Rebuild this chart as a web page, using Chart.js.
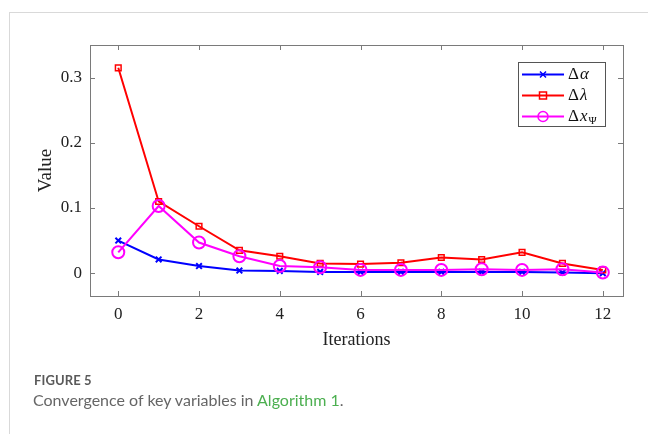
<!DOCTYPE html>
<html>
<head>
<meta charset="utf-8">
<script src="https://cdn.jsdelivr.net/npm/chart.js@4.4.0/dist/chart.umd.min.js"></script>
<style>
  html, body { margin: 0; padding: 0; background: #fff; }
  body { width: 648px; height: 434px; position: relative; overflow: hidden; }
  #frame { position: absolute; left: 9px; top: 12px; width: 660px; height: 440px;
           border-left: 1px solid #d9d9d9; border-top: 1px solid #d9d9d9; }
  #wrap { position: absolute; left: 0; top: 0; width: 648px; height: 434px; }
  #fig { position: absolute; left: 34px; top: 372px; font-family: Lato, "Open Sans", sans-serif;
         font-size: 13px; font-weight: 700; color: #5a5a5a; letter-spacing: 0.1px; }
  #cap { position: absolute; left: 33px; top: 390px; font-family: Lato, "Open Sans", sans-serif;
         font-size: 16px; color: #666; letter-spacing: 0; }
  #cap span { color: #4caf50; }
</style>
</head>
<body>
<div id="frame"></div>
<div id="wrap"><canvas id="c" width="648" height="434"></canvas></div>
<div id="fig">FIGURE 5</div>
<div id="cap">Convergence of key variables in <span>Algorithm 1</span>.</div>
<script>
const iterations = [0, 1, 2, 3, 4, 5, 6, 7, 8, 9, 10, 11, 12];
const deltaAlpha  = [0.050, 0.021, 0.011, 0.004, 0.0035, 0.002, 0.002, 0.002, 0.002, 0.002, 0.002, 0.001, 0.000];
const deltaLambda = [0.315, 0.110, 0.072, 0.035, 0.026, 0.015, 0.014, 0.016, 0.024, 0.021, 0.032, 0.015, 0.005];
const deltaXPsi   = [0.032, 0.103, 0.047, 0.026, 0.011, 0.009, 0.005, 0.005, 0.005, 0.006, 0.005, 0.006, 0.001];
const xTickValues = [0, 2, 4, 6, 8, 10, 12];
const yTickValues = [0, 0.1, 0.2, 0.3];
const yTickLabels = ['0', '0.1', '0.2', '0.3'];
const seriesLabels = ['Δα', 'Δλ', 'ΔxΨ'];

const toPoints = arr => iterations.map((x, i) => ({ x: x, y: arr[i] }));
const serif = '"Liberation Serif", "Times New Roman", serif';

const boxTicks = {
  id: 'boxTicks',
  afterDatasetsDraw(chart) {
    const { ctx, chartArea: a, scales: { x, y } } = chart;
    ctx.save();
    ctx.strokeStyle = '#7a7a7a';
    ctx.lineWidth = 1;
    ctx.strokeRect(Math.round(a.left) + 0.5, Math.round(a.top) + 0.5,
                   Math.round(a.right - a.left), Math.round(a.bottom - a.top));
    ctx.beginPath();
    const L = 5;
    xTickValues.forEach(v => {
      const px = Math.round(x.getPixelForValue(v)) + 0.5;
      ctx.moveTo(px, a.bottom); ctx.lineTo(px, a.bottom - L);
      ctx.moveTo(px, a.top); ctx.lineTo(px, a.top + L);
    });
    yTickValues.forEach(v => {
      const py = Math.round(y.getPixelForValue(v)) + 0.5;
      ctx.moveTo(a.left, py); ctx.lineTo(a.left + L, py);
      ctx.moveTo(a.right, py); ctx.lineTo(a.right - L, py);
    });
    ctx.stroke();

    // legend
    const lx = 518, ly = 62, lw = 87, lh = 64;
    ctx.fillStyle = '#fff';
    ctx.fillRect(lx, ly, lw, lh);
    ctx.strokeStyle = '#555';
    ctx.strokeRect(lx + 0.5, ly + 0.5, lw, lh);
    const rows = [74, 95, 116];
    [0, 1, 2].forEach((di, r) => {
      const ds = chart.data.datasets[di];
      const yy = rows[r] + 0.5;
      ctx.strokeStyle = ds.borderColor;
      ctx.lineWidth = 2;
      ctx.beginPath(); ctx.moveTo(522, yy); ctx.lineTo(564, yy); ctx.stroke();
      ctx.lineWidth = 1.5;
      const cx = 543;
      ctx.beginPath();
      if (ds.pointStyle === 'crossRot') {
        ctx.moveTo(cx - 3, yy - 3); ctx.lineTo(cx + 3, yy + 3);
        ctx.moveTo(cx + 3, yy - 3); ctx.lineTo(cx - 3, yy + 3);
      } else if (ds.pointStyle === 'rect') {
        ctx.rect(cx - 3.5, yy - 3.5, 7, 7);
      } else {
        ctx.arc(cx, yy, 5, 0, Math.PI * 2);
      }
      ctx.stroke();
      ctx.fillStyle = '#111';
      ctx.textBaseline = 'middle';
      ctx.textAlign = 'left';
      const lab = seriesLabels[di];
      let tx = 568;
      ctx.font = '17px ' + serif;
      ctx.fillText(lab[0], tx, yy);
      tx += ctx.measureText(lab[0]).width + 1;
      ctx.font = 'italic 17px ' + serif;
      ctx.fillText(lab[1], tx, yy);
      tx += ctx.measureText(lab[1]).width;
      if (lab.length > 2) {
        ctx.font = '11px ' + serif;
        ctx.fillText(lab.slice(2), tx + 1, yy + 5);
      }
    });
    ctx.restore();
  }
};

new Chart(document.getElementById('c'), {
  type: 'line',
  data: {
    datasets: [
      { label: seriesLabels[0], data: toPoints(deltaAlpha), borderColor: '#0000ff', backgroundColor: 'rgba(0,0,0,0)',
        borderWidth: 2, pointStyle: 'crossRot', pointRadius: 4, pointBorderWidth: 2, order: 2 },
      { label: seriesLabels[1], data: toPoints(deltaLambda), borderColor: '#ff0000', backgroundColor: 'rgba(0,0,0,0)',
        borderWidth: 2, pointStyle: 'rect', pointRadius: 4, pointBorderWidth: 1.5, order: 1 },
      { label: seriesLabels[2], data: toPoints(deltaXPsi), borderColor: '#ff00ff', backgroundColor: 'rgba(0,0,0,0)',
        borderWidth: 2, pointStyle: 'circle', pointRadius: 6, pointBorderWidth: 2, order: 0 }
    ]
  },
  options: {
    responsive: false,
    animation: false,
    events: [],
    layout: { padding: { left: 0, top: 45, right: 25, bottom: 78 } },
    plugins: { legend: { display: false }, tooltip: { enabled: false } },
    scales: {
      x: {
        type: 'linear', min: -0.7, max: 12.5,
        afterBuildTicks: s => { s.ticks = xTickValues.map(v => ({ value: v })); },
        afterFit: s => { s.height = 60; },
        grid: { display: false, drawTicks: false },
        border: { display: false },
        ticks: { color: '#222', font: { family: serif, size: 17 }, padding: 8, maxRotation: 0 },
        title: { display: true, text: 'Iterations', color: '#222', font: { family: serif, size: 18 }, padding: { top: 0, bottom: 5 } }
      },
      y: {
        type: 'linear', min: -0.035, max: 0.35,
        afterBuildTicks: s => { s.ticks = yTickValues.map(v => ({ value: v })); },
        afterFit: s => { s.width = 90; },
        grid: { display: false, drawTicks: false },
        border: { display: false },
        ticks: { color: '#222', font: { family: serif, size: 17 }, padding: 8,
                 callback: (v) => { const i = yTickValues.indexOf(v); return i >= 0 ? yTickLabels[i] : ''; } },
        title: { display: true, text: 'Value', color: '#222', font: { family: serif, size: 19 }, padding: { top: 35, bottom: 0 } }
      }
    }
  },
  plugins: [boxTicks]
});
</script>
</body>
</html>
